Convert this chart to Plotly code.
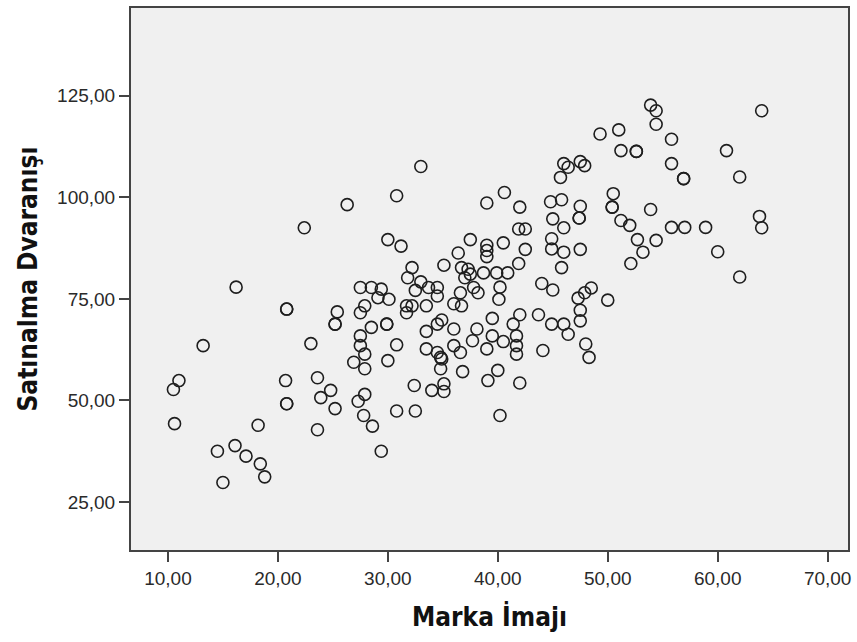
import plotly.graph_objects as go

# Marka İmajı (x) and Satınalma Dvaranışı (y)
marka_imaji = [
    26.3, 22.4, 16.2, 20.8, 20.8, 25.4, 25.2, 25.2, 13.2, 23.0,
    11.0, 10.5, 20.7, 23.6, 24.8, 23.9, 25.2, 20.8, 20.8, 10.6,
    18.2, 23.6, 14.5, 16.1, 17.1, 18.4, 18.8, 15.0,
    33.0, 30.8, 39.0, 40.6, 42.0, 44.8, 45.7, 45.8, 45.0, 46.0,
    41.9, 42.5, 30.0, 31.2, 37.5, 39.0, 39.0, 39.0, 40.5, 42.5,
    44.9, 44.9, 46.0, 36.4, 35.1, 41.9, 32.2, 31.8, 33.0, 36.7,
    37.3, 37.5, 37.0, 38.7, 39.9, 40.9, 44.0, 45.0, 45.8, 27.5,
    28.5, 29.4, 32.5, 33.7, 34.5, 37.8, 40.2,
    29.1, 30.1, 34.5, 36.6, 38.2, 40.1, 27.9, 27.5, 31.7, 32.2,
    31.7, 33.5, 36.0, 36.7, 29.9, 29.9, 28.5, 27.5, 27.5, 27.9,
    26.9, 27.9, 30.8, 30.0, 33.5, 34.5, 34.9, 36.0, 33.5, 34.5,
    34.8, 34.9, 34.8, 36.0, 36.6, 36.8, 38.1, 37.7, 39.5, 39.5,
    39.0, 40.5, 41.4, 42.0, 41.7, 41.7, 41.7, 43.7, 44.9, 44.1,
    32.4, 34.0, 35.1, 35.1, 39.1, 40.0, 42.0, 27.9, 27.3, 27.8,
    28.6, 30.8, 32.5, 40.2, 29.4,
    53.9, 54.4, 54.4, 64.0, 49.3, 51.0, 55.8, 51.2, 52.6, 52.6,
    60.8, 55.8, 56.9, 56.9, 62.0, 46.0, 46.4, 47.5, 47.9, 47.5,
    47.4, 47.4, 50.5, 50.4, 50.4, 51.2, 52.0, 53.9, 52.7, 54.4,
    53.2, 52.1, 55.8, 57.0, 58.9, 60.0, 63.8, 64.0, 62.0, 47.5,
    48.5, 47.9, 47.3, 50.0, 47.5, 47.5, 46.0, 46.4, 48.0, 48.3,
]

satinalma_davranisi = [
    98.2, 92.5, 77.9, 72.5, 72.5, 71.8, 68.8, 68.8, 63.5, 64.0,
    54.9, 52.7, 54.9, 55.6, 52.5, 50.7, 48.0, 49.2, 49.2, 44.3,
    43.9, 42.8, 37.5, 38.9, 36.3, 34.4, 31.2, 29.8,
    107.6, 100.4, 98.6, 101.2, 97.6, 98.9, 104.9, 99.4, 94.7, 92.5,
    92.2, 92.2, 89.6, 88.0, 89.6, 88.2, 86.9, 85.4, 88.8, 87.2,
    89.8, 87.3, 86.5, 86.3, 83.3, 83.7, 82.7, 80.2, 79.2, 82.7,
    82.3, 81.1, 80.2, 81.4, 81.4, 81.4, 78.8, 77.2, 82.7, 77.8,
    77.8, 77.4, 77.1, 77.8, 77.8, 77.8, 77.9,
    75.3, 74.9, 75.7, 76.5, 76.5, 74.9, 73.3, 71.6, 73.3, 73.3,
    71.6, 73.3, 73.8, 73.3, 68.8, 68.8, 68.0, 65.9, 63.5, 61.4,
    59.4, 57.8, 63.7, 59.8, 67.0, 68.8, 69.8, 67.6, 62.7, 61.8,
    60.6, 60.2, 57.8, 63.5, 61.8, 57.1, 67.6, 64.7, 70.2, 65.9,
    62.7, 64.5, 68.8, 71.1, 65.9, 63.5, 61.4, 71.1, 68.8, 62.3,
    53.7, 52.5, 54.1, 52.2, 54.9, 57.4, 54.3, 51.5, 49.8, 46.3,
    43.7, 47.4, 47.4, 46.3, 37.5,
    122.7, 121.3, 118.0, 121.3, 115.6, 116.6, 114.3, 111.5, 111.3, 111.3,
    111.5, 108.3, 104.6, 104.6, 105.0, 108.3, 107.4, 108.8, 107.8, 97.8,
    94.9, 94.9, 100.9, 97.6, 97.6, 94.3, 93.1, 97.0, 89.6, 89.4,
    86.5, 83.7, 92.6, 92.6, 92.6, 86.6, 95.3, 92.5, 80.4, 87.2,
    77.7, 76.5, 75.2, 74.7, 72.2, 69.6, 68.8, 66.3, 63.9, 60.6,
]

x_ticks = [10, 20, 30, 40, 50, 60, 70]
y_ticks = [25, 50, 75, 100, 125]

title_font = dict(family="Liberation Sans Narrow, DejaVu Sans Condensed, Arial Narrow, sans-serif",
                  size=26, color="#111111")
tick_font = dict(family="Liberation Sans, Arial, sans-serif", size=19, color="#2a2a2a")

fig = go.Figure(
    go.Scatter(
        x=marka_imaji,
        y=satinalma_davranisi,
        mode="markers",
        marker=dict(symbol="circle-open", size=12, color="#1e1e1e", line=dict(width=1.6)),
        hoverinfo="x+y",
    )
)

axis_common = dict(
    ticks="outside",
    ticklen=10,
    tickwidth=2,
    tickcolor="#444444",
    showline=True,
    mirror=True,
    linecolor="#444444",
    linewidth=2,
    showgrid=False,
    zeroline=False,
    tickfont=tick_font,
    tickformat=".2f",
)

fig.update_layout(
    width=857,
    height=642,
    margin=dict(l=131, r=9, t=6, b=92),
    paper_bgcolor="white",
    plot_bgcolor="#f0f0f0",
    showlegend=False,
    separators=",.",
    xaxis=dict(
        range=[6.64, 71.85],
        tickvals=x_ticks,
        title=dict(text="<b>Marka İmajı</b>", font=title_font, standoff=20),
        **axis_common,
    ),
    yaxis=dict(
        range=[13.2, 146.6],
        tickvals=y_ticks,
        title=dict(text="<b>Satınalma Dvaranışı</b>", font=title_font, standoff=12),
        **axis_common,
    ),
)

fig.write_html(
    "out.html",
    config={"displayModeBar": False},
    post_script="document.body.style.margin='0';document.body.style.padding='0';",
)
